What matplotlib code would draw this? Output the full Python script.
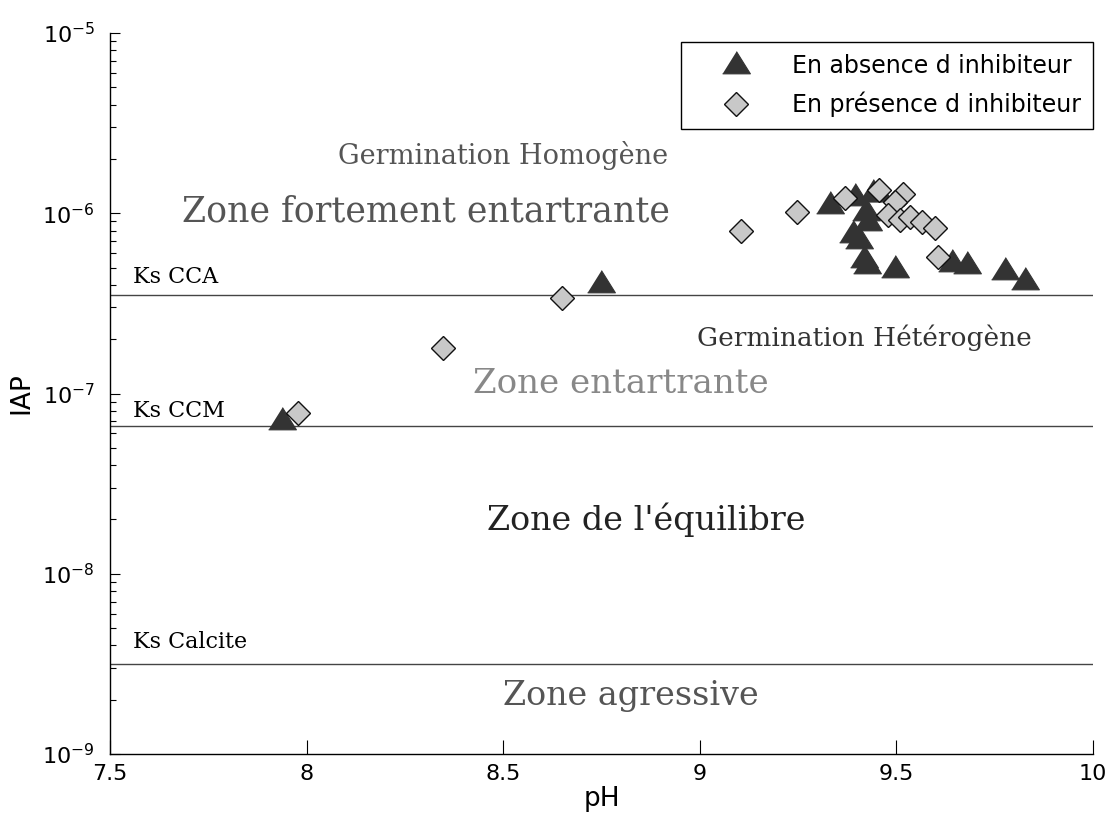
import numpy as np
import matplotlib
matplotlib.use("Agg")
import matplotlib.pyplot as plt
from matplotlib.ticker import NullFormatter, FixedLocator, LogFormatterSciNotation

# Saturation index data: ion activity product (IAP) versus pH
ph_sans = [7.937, 8.749, 9.331, 9.395, 9.440, 9.453, 9.423, 9.428, 9.390, 9.405,
           9.418, 9.425, 9.496, 9.641, 9.680, 9.776, 9.827]
iap_sans = [7.05e-8, 4.05e-7, 1.11e-6, 1.23e-6, 1.29e-6, 1.29e-6, 1.02e-6, 8.9e-7,
            7.7e-7, 7.1e-7, 5.57e-7, 5.16e-7, 4.91e-7, 5.3e-7, 5.16e-7, 4.78e-7, 4.2e-7]

ph_avec = [7.978, 8.347, 8.650, 9.105, 9.247, 9.369, 9.456, 9.517, 9.496, 9.479,
           9.509, 9.535, 9.565, 9.598, 9.606]
iap_avec = [7.8e-8, 1.79e-7, 3.39e-7, 7.98e-7, 1.02e-6, 1.22e-6, 1.35e-6, 1.28e-6,
            1.15e-6, 9.77e-7, 9.2e-7, 9.5e-7, 8.9e-7, 8.3e-7, 5.7e-7]

# Solubility products
ks_noms = ["Ks CCA", "Ks CCM", "Ks Calcite"]
ks_valeurs = [3.52e-7, 6.6e-8, 3.16e-9]

x_ticks = [7.5, 8, 8.5, 9, 9.5, 10]
x_tick_labels = ["7.5", "8", "8.5", "9", "9.5", "10"]
y_decades = [-9, -8, -7, -6, -5]

plt.rcParams["font.family"] = ["DejaVu Sans"]
plt.rcParams["mathtext.fontset"] = "dejavusans"
SERIF = ["DejaVu Serif"]

fig = plt.figure(figsize=(11.16, 8.32), dpi=100)
ax = fig.add_axes([110 / 1116, 1 - 754 / 832, (1093 - 110) / 1116, (754 - 33) / 832])

ax.set_yscale("log")
ax.set_xlim(7.5, 10)
ax.set_ylim(1e-9, 1e-5)

# Triangle marker, wider than tall
tri = [(-1.0, -0.6), (1.0, -0.6), (0.0, 1.0)]

for ks in ks_valeurs:
    ax.axhline(ks, color="#444444", lw=1.0, zorder=1)

ax.plot(ph_sans, iap_sans, linestyle="none", marker=tri, markersize=20,
        markerfacecolor="#333333", markeredgecolor="#333333", markeredgewidth=0.8,
        label="En absence d inhibiteur", zorder=3)
ax.plot(ph_avec, iap_avec, linestyle="none", marker="D", markersize=12.5,
        markerfacecolor="#c8c8c8", markeredgecolor="#111111", markeredgewidth=1.0,
        label="En présence d inhibiteur", zorder=4)

# Solubility-product labels
for nom, ly in zip(ks_noms, [-6.354, -7.097, -8.379]):
    ax.text(7.558, 10 ** ly, nom, family=SERIF, fontsize=16, va="center", ha="left")

# Zone annotations
ax.text(8.080, 10 ** -5.677, "Germination Homogène", family=SERIF, fontsize=19.5,
        color="#555555", va="center", ha="left")
ax.text(7.683, 10 ** -5.993, "Zone fortement entartrante", family=SERIF, fontsize=25,
        color="#555555", va="center", ha="left")
ax.text(8.993, 10 ** -6.692, "Germination Hétérogène", family=SERIF, fontsize=19,
        color="#333333", va="center", ha="left")
ax.text(8.423, 10 ** -6.947, "Zone entartrante", family=SERIF, fontsize=24.5,
        color="#888888", va="center", ha="left")
ax.text(8.459, 10 ** -7.702, "Zone de l'équilibre", family=SERIF, fontsize=24,
        color="#222222", va="center", ha="left")
ax.text(8.500, 10 ** -8.678, "Zone agressive", family=SERIF, fontsize=24,
        color="#555555", va="center", ha="left")

# Axes styling
ax.spines["top"].set_visible(False)
ax.spines["right"].set_visible(False)
for s in ("left", "bottom"):
    ax.spines[s].set_linewidth(1.0)

ax.xaxis.set_major_locator(FixedLocator(x_ticks))
ax.set_xticklabels(x_tick_labels)

major_y = [10.0 ** d for d in y_decades]
minor_y = [m * 10.0 ** d for d in y_decades[:-1] for m in range(2, 10)]
ax.yaxis.set_major_locator(FixedLocator(major_y))
ax.yaxis.set_major_formatter(LogFormatterSciNotation(base=10))
ax.yaxis.set_minor_locator(FixedLocator(minor_y))
ax.yaxis.set_minor_formatter(NullFormatter())

ax.tick_params(axis="x", which="major", direction="in", length=10, width=0.8,
               labelsize=16, pad=7)
ax.tick_params(axis="y", which="major", direction="in", length=7, width=0.8,
               labelsize=16, pad=11)
ax.tick_params(axis="y", which="minor", direction="in", length=4, width=0.8)

ax.set_xlabel("pH", fontsize=19, labelpad=2)
ax.set_ylabel("IAP", fontsize=19, labelpad=6)

leg = ax.legend(loc="upper right", bbox_to_anchor=(1.0, 0.9875), borderaxespad=0,
                fancybox=False, edgecolor="black", framealpha=1, fontsize=17,
                handletextpad=0.6, borderpad=0.5, labelspacing=0.6, handlelength=3.6)
leg.get_frame().set_linewidth(1.0)

fig.savefig("out.png", dpi=100)
